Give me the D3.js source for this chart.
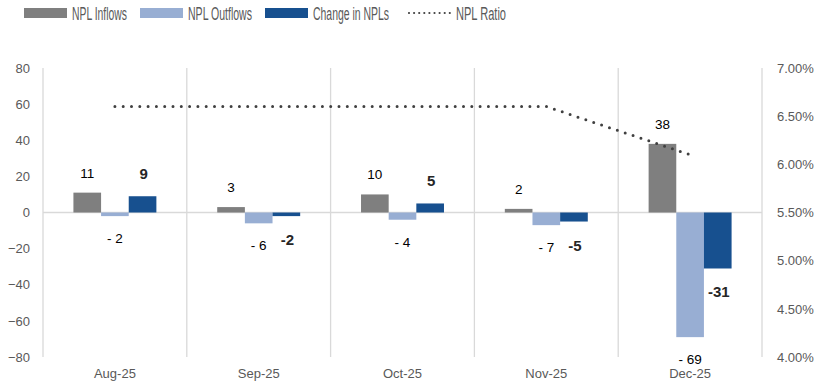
<!DOCTYPE html>
<html>
<head>
<meta charset="utf-8">
<script src="https://cdn.jsdelivr.net/npm/d3@7"></script>
<style>
  html, body { margin: 0; padding: 0; background: #ffffff; }
  svg { display: block; }
</style>
</head>
<body>
<svg id="chart" width="819" height="388"></svg>
<script>
// Monthly NPL movements (left axis) and NPL ratio (right axis)
const months = ["Aug-25", "Sep-25", "Oct-25", "Nov-25", "Dec-25"];
const inflows = [11, 3, 10, 2, 38];
const outflows = [-2, -6, -4, -7, -69];
const changes = [9, -2, 5, -5, -31];
const nplRatio = [0.066, 0.066, 0.066, 0.066, 0.061];
const leftTicks = [-80, -60, -40, -20, 0, 20, 40, 60, 80];
const rightTicks = [0.04, 0.045, 0.05, 0.055, 0.06, 0.065, 0.07];

const seriesNames = ["NPL Inflows", "NPL Outflows", "Change in NPLs"];
const seriesColors = ["#7f7f7f", "#98aed3", "#17508f"];
const seriesValues = [inflows, outflows, changes];

const svg = d3.select("#chart");
const margin = { left: 43, right: 57, top: 68, bottom: 31 };
const W = 819, H = 388;
const x0 = margin.left, x1 = W - margin.right;
const yTop = margin.top, yBot = H - margin.bottom;

const x = d3.scaleBand().domain(months).range([x0, x1]).paddingInner(0).paddingOuter(0);
const xs = d3.scaleBand().domain(seriesNames).range([0, x.bandwidth()]).paddingInner(0).paddingOuter(1.1);
const y = d3.scaleLinear().domain([-80, 80]).range([yBot, yTop]);
const y2 = d3.scaleLinear().domain([0.04, 0.07]).range([yBot, yTop]);

const gridColor = "#d9d9d9";
const tickColor = "#595959";
const labelFont = "'Liberation Sans', Arial, sans-serif";

// Vertical separators between months, plus the two axis lines
const seps = months.map(m => x(m)).concat([x1]);
svg.append("g").selectAll("line").data(seps).join("line")
  .attr("x1", d => d).attr("x2", d => d)
  .attr("y1", yTop).attr("y2", yBot)
  .attr("stroke", gridColor).attr("stroke-width", 1.3);

// Zero line
svg.append("line")
  .attr("x1", x0).attr("x2", x1)
  .attr("y1", y(0)).attr("y2", y(0))
  .attr("stroke", gridColor).attr("stroke-width", 1.3);

// Left axis
const leftAxis = d3.axisLeft(y).tickValues(leftTicks).tickSize(0).tickPadding(13);
const gl = svg.append("g").attr("transform", `translate(${x0},0)`).call(leftAxis);
gl.select(".domain").remove();
gl.selectAll("text").attr("fill", tickColor).attr("font-size", 13).attr("font-family", labelFont);

// Right axis
const rightAxis = d3.axisRight(y2).tickValues(rightTicks).tickSize(0).tickPadding(15)
  .tickFormat(d3.format(".2%"));
const gr = svg.append("g").attr("transform", `translate(${x1},0)`).call(rightAxis);
gr.select(".domain").remove();
gr.selectAll("text").attr("fill", tickColor).attr("font-size", 13).attr("font-family", labelFont);

// Category axis labels
const bx = d3.axisBottom(x).tickSize(0).tickPadding(12);
const gb = svg.append("g").attr("transform", `translate(0,${yBot})`).call(bx);
gb.select(".domain").remove();
gb.selectAll("text").attr("fill", tickColor).attr("font-size", 13).attr("font-family", labelFont);

// Bars
seriesNames.forEach((name, si) => {
  const vals = seriesValues[si];
  svg.append("g").selectAll("rect").data(months).join("rect")
    .attr("x", (m) => x(m) + xs(name))
    .attr("width", xs.bandwidth())
    .attr("y", (m, i) => y(Math.max(0, vals[i])))
    .attr("height", (m, i) => Math.abs(y(vals[i]) - y(0)))
    .attr("fill", seriesColors[si]);
});

// Data labels
const fmtAcct = v => v < 0 ? "- " + Math.abs(v) : String(v);
// inflows: above bars
svg.append("g").selectAll("text").data(months).join("text")
  .attr("x", m => x(m) + xs("NPL Inflows") + xs.bandwidth() / 2)
  .attr("y", (m, i) => y(inflows[i]) - 15)
  .attr("text-anchor", "middle")
  .attr("font-size", 13.5).attr("font-family", labelFont).attr("fill", "#000")
  .text((m, i) => fmtAcct(inflows[i]));
// outflows: below bars
svg.append("g").selectAll("text").data(months).join("text")
  .attr("x", m => x(m) + xs("NPL Outflows") + xs.bandwidth() / 2)
  .attr("y", (m, i) => y(outflows[i]) + 27)
  .attr("text-anchor", "middle")
  .attr("font-size", 13.5).attr("font-family", labelFont).attr("fill", "#000")
  .text((m, i) => fmtAcct(outflows[i]));
// net change: bold, outside the bar end
svg.append("g").selectAll("text").data(months).join("text")
  .attr("x", m => x(m) + xs("Change in NPLs") + xs.bandwidth() / 2 + 1)
  .attr("y", (m, i) => changes[i] >= 0 ? y(changes[i]) - 17 : y(changes[i]) + 29)
  .attr("text-anchor", "middle")
  .attr("font-size", 15).attr("font-weight", "bold").attr("font-family", labelFont).attr("fill", "#262626")
  .text((m, i) => String(changes[i]));

// NPL ratio dotted line
const line = d3.line()
  .x((d, i) => x(months[i]) + x.bandwidth() / 2)
  .y(d => y2(d));
svg.append("path")
  .datum(nplRatio)
  .attr("d", line)
  .attr("fill", "none")
  .attr("stroke", "#404040")
  .attr("stroke-width", 3)
  .attr("stroke-linecap", "round")
  .attr("stroke-dasharray", "0 8.3");

// Legend (narrow lettering, compressed to fixed widths)
const legendItems = [
  { name: "NPL Inflows", color: seriesColors[0], x: 24, type: "bar", w: 55 },
  { name: "NPL Outflows", color: seriesColors[1], x: 140, type: "bar", w: 64 },
  { name: "Change in NPLs", color: seriesColors[2], x: 265, type: "bar", w: 76 },
  { name: "NPL Ratio", color: "#404040", x: 408, type: "dots", w: 50 }
];
const lg = svg.append("g");
legendItems.forEach(it => {
  if (it.type === "bar") {
    lg.append("rect").attr("x", it.x).attr("y", 8).attr("width", 43).attr("height", 10).attr("fill", it.color);
  } else {
    lg.append("line").attr("x1", it.x + 1).attr("x2", it.x + 42).attr("y1", 13).attr("y2", 13)
      .attr("stroke", it.color).attr("stroke-width", 2.2).attr("stroke-linecap", "round")
      .attr("stroke-dasharray", "0 5.1");
  }
  lg.append("text").attr("x", it.x + 48).attr("y", 19.5)
    .attr("font-size", 17.5).attr("font-family", labelFont).attr("fill", tickColor)
    .attr("textLength", it.w).attr("lengthAdjust", "spacingAndGlyphs")
    .text(it.name);
});
</script>
</body>
</html>
